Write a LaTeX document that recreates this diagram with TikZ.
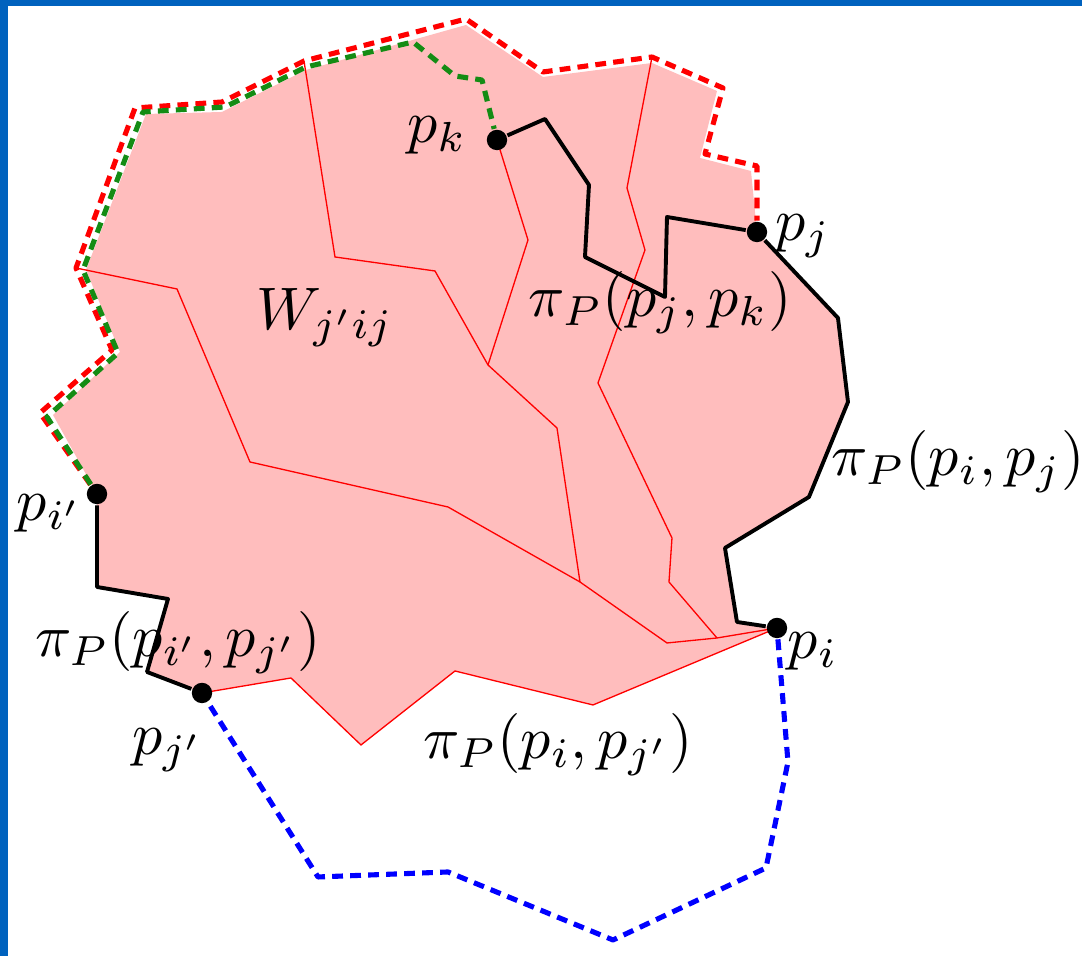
\documentclass[tikz,border=0pt]{standalone}
\usetikzlibrary{positioning,backgrounds}
\definecolor{jpink}{RGB}{255,189,189}
\definecolor{jgreen}{RGB}{20,140,20}
\definecolor{slideblue}{RGB}{0,98,190}

\begin{document}
\begin{tikzpicture}[x=0.16667pt, y=-0.16667pt, line join=round,
  pnt/.style={circle, fill=black, inner sep=0pt, minimum size=3.4pt},
  chain/.style={line width=0.85pt, dash pattern=on 1.8pt off 1.2pt},
  sp/.style={black, line width=0.65pt},
  tree/.style={red, line width=0.22pt}]
\useasboundingbox (0,0) rectangle (1082,956);

% the five points
\node[pnt] (pk) at (497,140) {};
\node[pnt] (pj) at (757,232) {};
\node[pnt] (pi) at (777,628) {};
\node[pnt] (pip) at (97,494) {};
\node[pnt] (pjp) at (202,693) {};

% outer boundary corners
\coordinate (o1) at (40,413);
\coordinate (o2) at (112,350);
\coordinate (o3) at (76,268);
\coordinate (o4) at (135,108);
\coordinate (o5) at (222,102);
\coordinate (o6) at (304,61);
\coordinate (o7) at (466,19);
\coordinate (o8) at (543,72);
\coordinate (o9) at (652,57);
\coordinate (o10) at (723,88);
\coordinate (o11) at (705,154);
\coordinate (o12) at (757,166);
\coordinate (m1) at (580,582);
\coordinate (m2) at (717,638);
\coordinate (m3) at (488,365);

\begin{scope}[on background layer]
\fill[slideblue] (0,0) rectangle (8,956);
\fill[slideblue] (0,0) rectangle (1082,6);
% region
\fill[jpink] (pj.center) -- (838,318) -- (848,402) -- (809,497) -- (725,548)
  -- (737,622) -- (pi.center) -- (593,705) -- (455,671) -- (361,745) -- (291,678)
  -- (pjp.center) -- (147,672) -- (168,599) -- (97,587) -- (pip.center)
  -- (53,415) -- (120,352) -- (86,270) -- (146,114) -- (222,112) -- (306,70)
  -- (466,25) -- (543,77) -- (652,63) -- (717,91) -- (700,158) -- (751,171) -- cycle;
% shortest path tree
\draw[tree] (o3) -- (177,289) -- (250,462) -- (448,507) -- (m1) -- (667,643) -- (m2) -- (pi.center);
\draw[tree] (o6) -- (335,257) -- (435,271) -- (m3) -- (557,428) -- (m1);
\draw[tree] (pk.center) -- (528,240) -- (m3);
\draw[tree] (o9) -- (627,188) -- (645,250) -- (598,383) -- (672,538) -- (669,582) -- (m2);
\draw[tree] (pjp.center) -- (291,678) -- (361,745) -- (455,671) -- (593,705) -- (pi.center);
\end{scope}

% chains
\draw[chain, red] (pip) -- (o1) -- (o2) -- (o3) -- (o4) -- (o5) -- (o6) -- (o7)
  -- (o8) -- (o9) -- (o10) -- (o11) -- (o12) -- (pj);
\draw[chain, jgreen] (pip) -- (47,417) -- (118,353) -- (83,270) -- (143,112)
  -- (225,107) -- (306,67) -- (413,42) -- (455,76) -- (482,80) -- (pk);
\draw[chain, blue] (pi) -- (788,762) -- (766,868) -- (613,940) -- (448,872)
  -- (318,877) -- (pjp);

% paths
\draw[sp] (pk) -- (545,119) -- (589,185) -- (585,257) -- (665,297) -- (667,217) -- (pj);
\draw[sp] (pj) -- (838,318) -- (848,402) -- (809,497) -- (725,548) -- (737,622) -- (pi);
\draw[sp] (pip) -- (97,587) -- (168,599) -- (147,672) -- (pjp);

% labels
\node (lpk) at (437,135) {$p_k$};
\node (lpj) at (803,236) {$p_j$};
\node (lpi) at (813,651) {$p_i$};
\node (lpip) at (50,513) {$p_{i'}$};
\node (lpjp) at (168,750) {$p_{j'}$};
\node (lw) at (325,318) {$W_{j'ij}$};
\node (ljk) at (660,303) {$\pi_P(p_j,p_k)$};
\node (lij) at (958,462) {$\pi_P(p_i,p_j)$};
\node (lipjp) at (178,643) {$\pi_P(p_{i'},p_{j'})$};
\node (lijp) at (558,745) {$\pi_P(p_i,p_{j'})$};
\end{tikzpicture}
\end{document}
